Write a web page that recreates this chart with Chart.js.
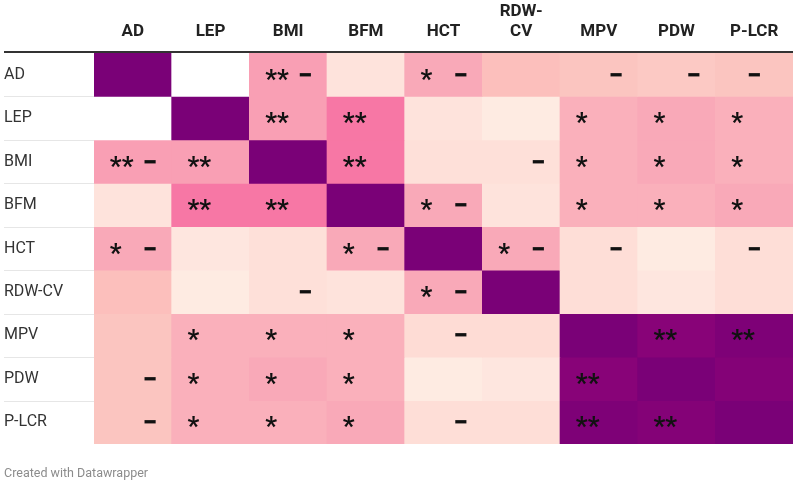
<!DOCTYPE html>
<html>
<head>
<meta charset="utf-8">
<script src="https://cdn.jsdelivr.net/npm/chart.js@4.4.1/dist/chart.umd.min.js"></script>
<style>
  html, body { margin: 0; padding: 0; background: #ffffff; }
  #wrap { width: 797px; height: 485px; }
</style>
</head>
<body>
<div id="wrap"><canvas id="c" width="797" height="485"></canvas></div>
<script>
// ---- data ----
const variables = ['AD', 'LEP', 'BMI', 'BFM', 'HCT', 'RDW-CV', 'MPV', 'PDW', 'P-LCR'];
const columnLabels = ['AD', 'LEP', 'BMI', 'BFM', 'HCT', ['RDW-', 'CV'], 'MPV', 'PDW', 'P-LCR'];
const rowLabels = ['AD', 'LEP', 'BMI', 'BFM', 'HCT', 'RDW-CV', 'MPV', 'PDW', 'P-LCR'];

// estimated strength of association (absolute correlation), one row per variable
const rowAD   = [1.00, 0.00, 0.33, 0.09, 0.28, 0.20, 0.18, 0.17, 0.18];
const rowLEP  = [0.00, 1.00, 0.33, 0.45, 0.09, 0.05, 0.25, 0.28, 0.25];
const rowBMI  = [0.33, 0.33, 1.00, 0.45, 0.10, 0.10, 0.25, 0.28, 0.25];
const rowBFM  = [0.09, 0.45, 0.45, 1.00, 0.28, 0.09, 0.25, 0.25, 0.28];
const rowHCT  = [0.28, 0.08, 0.10, 0.28, 1.00, 0.28, 0.11, 0.05, 0.11];
const rowRDW  = [0.20, 0.05, 0.10, 0.09, 0.28, 1.00, 0.11, 0.08, 0.11];
const rowMPV  = [0.18, 0.25, 0.25, 0.25, 0.12, 0.12, 1.00, 0.85, 0.95];
const rowPDW  = [0.18, 0.25, 0.28, 0.25, 0.05, 0.08, 0.85, 1.00, 0.90];
const rowPLCR = [0.18, 0.25, 0.25, 0.28, 0.11, 0.11, 0.95, 0.90, 1.00];
const strength = [rowAD, rowLEP, rowBMI, rowBFM, rowHCT, rowRDW, rowMPV, rowPDW, rowPLCR];

// significance marks (* / **) and negative sign (−); a leading space = empty star slot
const marksAD   = ['', '', '** −', '', '* −', '', '  −', '  −', '−'];
const marksLEP  = ['', '', '**', '**', '', '', '*', '*', '*'];
const marksBMI  = ['** −', '**', '', '**', '', '  −', '*', '*', '*'];
const marksBFM  = ['', '**', '**', '', '* −', '', '*', '*', '*'];
const marksHCT  = ['* −', '', '', '* −', '', '* −', '  −', '', '−'];
const marksRDW  = ['', '', '  −', '', '* −', '', '', '', ''];
const marksMPV  = ['', '*', '*', '*', '  −', '', '', '**', '**'];
const marksPDW  = ['  −', '*', '*', '*', '', '', '**', '', ''];
const marksPLCR = ['  −', '*', '*', '*', '  −', '', '**', '**', ''];
const marks = [marksAD, marksLEP, marksBMI, marksBFM, marksHCT, marksRDW, marksMPV, marksPDW, marksPLCR];

const footerText = 'Created with Datawrapper';

// ---- colour scale ----
const colorStops = [
  [0.00, '#ffffff'], [0.05, '#feebe2'], [0.08, '#fee6df'], [0.10, '#fee0d9'],
  [0.12, '#fedcd5'], [0.18, '#fbc5c0'], [0.20, '#fcbfbc'], [0.25, '#fab0bb'],
  [0.28, '#f9a9b8'], [0.33, '#f99fb4'], [0.45, '#f777a5'], [0.85, '#880378'],
  [0.90, '#840277'], [0.95, '#7e0177'], [1.00, '#7a0177']
];
function hexRgb(h) { return [1, 3, 5].map(i => parseInt(h.substr(i, 2), 16)); }
function colorFor(v) {
  for (let i = 1; i < colorStops.length; i++) {
    const [v1, c1] = colorStops[i];
    const [v0, c0] = colorStops[i - 1];
    if (v <= v1) {
      const t = (v - v0) / (v1 - v0 || 1);
      const a = hexRgb(c0), b = hexRgb(c1);
      const m = a.map((x, k) => Math.round(x + (b[k] - x) * t));
      return `rgb(${m[0]},${m[1]},${m[2]})`;
    }
  }
  return colorStops[colorStops.length - 1][1];
}

const datasets = rowLabels.map((name, r) => ({
  label: name,
  data: variables.map(() => [r, r + 1]),
  backgroundColor: strength[r].map(colorFor),
  borderWidth: 0,
  grouped: false,
  barPercentage: 1,
  categoryPercentage: 1,
  yAxisID: 'y'
}));

const FONT = 'Roboto, "Liberation Sans", sans-serif';

const decorPlugin = {
  id: 'decor',
  beforeDatasetsDraw(chart) {
    const ctx = chart.ctx, area = chart.chartArea, y = chart.scales.y;
    ctx.save();
    ctx.strokeStyle = '#e6e6e6';
    ctx.lineWidth = 1;
    for (let r = 1; r < rowLabels.length; r++) {
      const py = Math.round(y.getPixelForValue(r)) + 0.5;
      ctx.beginPath();
      ctx.moveTo(4, py);
      ctx.lineTo(area.right, py);
      ctx.stroke();
    }
    ctx.restore();
  },
  afterDatasetsDraw(chart) {
    const ctx = chart.ctx, area = chart.chartArea;
    const xs = chart.scales.x, ys = chart.scales.y;
    ctx.save();
    // header rule
    ctx.strokeStyle = '#333333';
    ctx.lineWidth = 2;
    ctx.beginPath();
    ctx.moveTo(4, area.top - 1);
    ctx.lineTo(area.right, area.top - 1);
    ctx.stroke();

    ctx.fillStyle = '#111111';
    ctx.textBaseline = 'alphabetic';
    const drawCentered = (txt, x, cy, align, font) => {
      ctx.font = font;
      const m = ctx.measureText(txt);
      const base = cy + (m.actualBoundingBoxAscent - m.actualBoundingBoxDescent) / 2;
      ctx.textAlign = align;
      ctx.fillText(txt, x, base);
    };
    const starFont = 'bold 26px ' + FONT;
    const dashFont = '900 26px ' + FONT;
    for (let r = 0; r < marks.length; r++) {
      for (let c = 0; c < variables.length; c++) {
        const lab = marks[r][c];
        if (!lab) continue;
        const cx = xs.getPixelForValue(c);
        const cy = ys.getPixelForValue(r + 0.5);
        const hasDash = lab.includes('−');
        const stars = lab.replace('−', '').trim();
        if (hasDash && !stars && !lab.startsWith(' ')) {
          drawCentered('−', cx, cy, 'center', dashFont);
          continue;
        }
        if (stars) drawCentered(stars, cx - 23, cy, 'left', starFont);
        if (hasDash) drawCentered('−', cx + 17, cy, 'center', dashFont);
      }
    }
    ctx.restore();
  }
};

new Chart(document.getElementById('c'), {
  type: 'bar',
  data: { labels: columnLabels, datasets },
  options: {
    responsive: false,
    animation: false,
    layout: { padding: { left: 4, right: 4, top: 0, bottom: 4 } },
    plugins: {
      legend: { display: false },
      tooltip: { enabled: false },
      title: {
        display: true,
        text: footerText,
        position: 'bottom',
        align: 'start',
        color: '#8c8c8c',
        font: { family: FONT, size: 12.5, weight: 'normal' },
        padding: { top: 22, bottom: 0 }
      }
    },
    scales: {
      x: {
        type: 'category',
        position: 'top',
        offset: true,
        grid: { display: false, drawTicks: false },
        border: { display: false },
        ticks: {
          color: '#222222',
          font: { family: FONT, size: 17, weight: 'bold' },
          padding: 11,
          maxRotation: 0,
          autoSkip: false
        },
        afterFit(s) { s.height = 53; }
      },
      y: {
        type: 'linear',
        min: 0,
        max: rowLabels.length,
        reverse: true,
        display: false
      },
      yc: {
        type: 'category',
        labels: rowLabels,
        position: 'left',
        offset: true,
        grid: { display: false, drawTicks: false },
        border: { display: false },
        ticks: {
          color: '#333333',
          font: { family: FONT, size: 16 },
          crossAlign: 'far',
          padding: 0,
          autoSkip: false
        },
        afterFit(s) { s.width = 90; }
      }
    }
  },
  plugins: [decorPlugin]
});
</script>
</body>
</html>
